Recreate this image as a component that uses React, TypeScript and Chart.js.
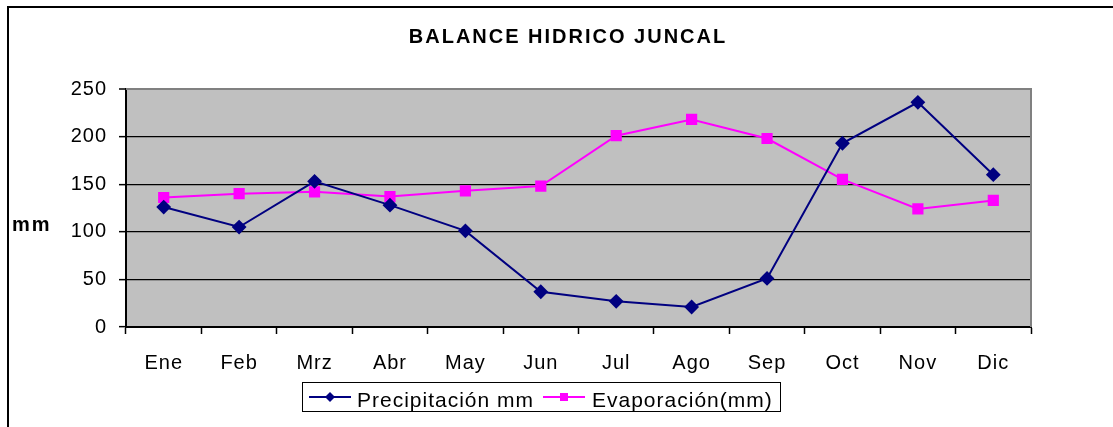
import React, { useEffect, useRef } from "react";
import { Chart, registerables } from "chart.js";

Chart.register(...registerables);

const TITLE = "BALANCE HIDRICO JUNCAL";
const Y_TITLE = "mm";
const months = ["Ene", "Feb", "Mrz", "Abr", "May", "Jun", "Jul", "Ago", "Sep", "Oct", "Nov", "Dic"];
const precipitacion = [126, 105, 153, 128, 101, 37, 27, 21, 51, 193, 236, 160];
const evaporacion = [136, 140, 142, 137, 143, 148, 201, 218, 198, 155, 124, 133];
const seriesNames = ["Precipitación mm", "Evaporación(mm)"];
const yTicks = [0, 50, 100, 150, 200, 250];

const FONT = "'Liberation Sans', Arial, sans-serif";

const decorPlugin = {
  id: "decor",
  beforeDraw(chart: any) {
    const { ctx, chartArea } = chart;
    ctx.save();
    ctx.fillStyle = "#ffffff";
    ctx.fillRect(0, 0, chart.width, chart.height);
    ctx.strokeStyle = "#000000";
    ctx.lineWidth = 2;
    ctx.beginPath();
    ctx.moveTo(8, chart.height + 5);
    ctx.lineTo(8, 7);
    ctx.lineTo(chart.width + 5, 7);
    ctx.stroke();
    ctx.fillStyle = "#C0C0C0";
    ctx.fillRect(chartArea.left, chartArea.top, chartArea.right - chartArea.left, chartArea.bottom - chartArea.top);
    ctx.restore();
    (ctx as any).letterSpacing = "1px";
  },
  beforeDatasetsDraw(chart: any) {
    const { ctx, chartArea } = chart;
    ctx.save();
    ctx.strokeStyle = "#808080";
    ctx.lineWidth = 2;
    ctx.beginPath();
    ctx.moveTo(chartArea.left, chartArea.top);
    ctx.lineTo(chartArea.right, chartArea.top);
    ctx.lineTo(chartArea.right, chartArea.bottom);
    ctx.stroke();
    ctx.restore();
  },
  afterDraw(chart: any) {
    const { ctx } = chart;
    ctx.save();
    (ctx as any).letterSpacing = "2px";
    ctx.fillStyle = "#000000";
    ctx.font = `bold 20px ${FONT}`;
    ctx.textAlign = "center";
    ctx.textBaseline = "alphabetic";
    ctx.fillText(TITLE, 568, 43);
    ctx.textAlign = "left";
    ctx.fillText(Y_TITLE, 12, 231);
    (ctx as any).letterSpacing = "1px";
    ctx.strokeStyle = "#000000";
    ctx.lineWidth = 1;
    ctx.strokeRect(302.5, 382.5, 478, 29);
    const ds = chart.data.datasets;
    const items = [
      { x0: 309, x1: 351, tx: 357 },
      { x0: 543, x1: 585, tx: 592 },
    ];
    items.forEach((it, i) => {
      const d = ds[i];
      ctx.strokeStyle = d.borderColor;
      ctx.lineWidth = 2;
      ctx.beginPath();
      ctx.moveTo(it.x0, 397);
      ctx.lineTo(it.x1, 397);
      ctx.stroke();
      ctx.fillStyle = d.pointBackgroundColor;
      const cx = (it.x0 + it.x1) / 2;
      if (d.pointStyle === "rectRot") {
        const r = 5;
        ctx.beginPath();
        ctx.moveTo(cx, 397 - r);
        ctx.lineTo(cx + r, 397);
        ctx.lineTo(cx, 397 + r);
        ctx.lineTo(cx - r, 397);
        ctx.closePath();
        ctx.fill();
      } else {
        ctx.fillRect(cx - 4, 393, 8, 8);
      }
      ctx.fillStyle = "#000000";
      ctx.font = `21px ${FONT}`;
      ctx.textAlign = "left";
      ctx.fillText(d.label, it.tx, 406.5);
    });
    ctx.restore();
  },
};

export default function App() {
  const ref = useRef<HTMLCanvasElement | null>(null);

  useEffect(() => {
    if (!ref.current) return;
    const chart = new Chart(ref.current, {
      type: "line",
      data: {
        labels: months,
        datasets: [
          {
            label: seriesNames[0],
            data: precipitacion,
            borderColor: "#000080",
            backgroundColor: "#000080",
            pointBackgroundColor: "#000080",
            pointBorderColor: "#000080",
            pointStyle: "rectRot",
            pointRadius: 6,
            borderWidth: 2,
            tension: 0,
          },
          {
            label: seriesNames[1],
            data: evaporacion,
            borderColor: "#FF00FF",
            backgroundColor: "#FF00FF",
            pointBackgroundColor: "#FF00FF",
            pointBorderColor: "#FF00FF",
            pointStyle: "rect",
            pointRadius: 6.5,
            borderWidth: 2,
            tension: 0,
          },
        ],
      },
      options: {
        animation: false,
        responsive: false,
        maintainAspectRatio: false,
        layout: { padding: { left: 0, right: 82, top: 89, bottom: 0 } },
        plugins: {
          legend: { display: false },
          title: { display: false },
          tooltip: { enabled: false },
        },
        scales: {
          x: {
            type: "category",
            offset: true,
            grid: {
              offset: true,
              drawOnChartArea: false,
              drawTicks: true,
              tickLength: 7,
              tickColor: "#000000",
              tickWidth: 1.5,
              color: "#000000",
            },
            border: { color: "#000000", width: 2 },
            ticks: {
              color: "#000000",
              font: { family: FONT, size: 20 },
              padding: 17,
              maxRotation: 0,
              autoSkip: false,
            },
            afterFit(scale: any) {
              scale.height = 100;
            },
          },
          y: {
            min: 0,
            max: 250,
            afterBuildTicks(scale: any) {
              scale.ticks = yTicks.map((v) => ({ value: v }));
            },
            grid: {
              color: (c: any) => (c.tick && c.tick.value === 250 ? "#808080" : "#000000"),
              lineWidth: (c: any) => (c.tick && c.tick.value === 250 ? 2 : 1.3),
              tickColor: "#000000",
              tickLength: 7,
              tickWidth: 1.5,
              drawTicks: true,
            },
            border: { color: "#000000", width: 2 },
            ticks: {
              color: "#000000",
              font: { family: FONT, size: 20 },
              padding: 12,
            },
            afterFit(scale: any) {
              scale.width = 126;
            },
          },
        },
      },
      plugins: [decorPlugin],
    } as any);
    return () => chart.destroy();
  }, []);

  return (
    <div style={{ position: "absolute", left: 0, top: 0, width: 1113, height: 427 }}>
      <canvas ref={ref} width={1113} height={427} style={{ width: 1113, height: 427, display: "block" }} />
    </div>
  );
}
